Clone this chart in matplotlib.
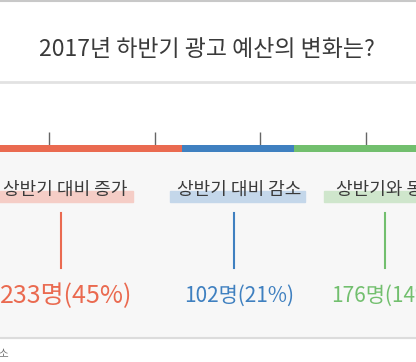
import matplotlib
matplotlib.use("Agg")
import matplotlib.pyplot as plt
from matplotlib.patches import Rectangle

plt.rcParams['font.family'] = ['Noto Sans CJK KR', 'DejaVu Sans']

title = "2017년 하반기 광고 예산의 변화는?"
categories = ["상반기 대비 증가", "상반기 대비 감소", "상반기와 동일"]
counts = [233, 102, 176]
value_labels = ["233명(45%)", "102명(21%)", "176명(14%)"]
colors = ["#ea6a50", "#3f80c0", "#72bf6e"]
light = ["#f5cdc6", "#c4d7ea", "#cfe6cc"]
scale_ticks = [112, 208.6, 304.2, 400.7]

W, H = 416, 362
fig = plt.figure(figsize=(W / 100, H / 100), dpi=100)

# overlay for decoration in pixel coords
deco = fig.add_axes([0, 0, 1, 1])
deco.set_xlim(0, W)
deco.set_ylim(H, 0)
deco.axis('off')

# background bands
deco.add_patch(Rectangle((0, 150), W, 188, color="#f7f7f7", zorder=0))
deco.plot([0, W], [1, 1], color="#c8c8c8", lw=1.5, zorder=1)
deco.plot([0, W], [82, 82], color="#e2e2e2", lw=2, zorder=1)
deco.plot([0, W], [338, 338], color="#dcdcdc", lw=1.5, zorder=1)

deco.text(207, 49, title, ha='center', va='center', fontsize=16.5,
          color="#3a3a3a")

# data axes: x in counts, y in pixels
px_per = 112 / 102.0
x0 = 74 / px_per
ax = fig.add_axes([0, 0, 1, 1])
ax.set_xlim(x0, x0 + W / px_per)
ax.set_ylim(H, 0)
ax.axis('off')
ax.patch.set_alpha(0)

left = 0
for c, col in zip(counts, colors):
    ax.barh(148, c, left=left, height=7, color=col, zorder=3)
    left += c

ax.vlines(scale_ticks, 132, 145, color="#666666", lw=1, zorder=2)

label_x = [65, 239, 388]
hl = [(-5, 133), (170, 305), (324, 430)]
line_x = [61, 234, 385]
value_x = [66, 239, 386]
value_fs = [18, 15, 15]
for i in range(3):
    deco.add_patch(Rectangle((hl[i][0], 191), hl[i][1] - hl[i][0], 11,
                             color=light[i], zorder=2))
    deco.text(label_x[i], 190, categories[i], ha='center', va='center',
              fontsize=13, color="#3a3a3a", zorder=3)
    deco.plot([line_x[i], line_x[i]], [213, 268], color=colors[i], lw=1.5,
              zorder=3)
    deco.text(value_x[i], 296, value_labels[i], ha='center', va='center',
              fontsize=value_fs[i], color=colors[i], zorder=3)

deco.text(9, 354, "연구소", ha='right', va='center', fontsize=8,
          color="#777777")

fig.savefig("out.png", dpi=100)
